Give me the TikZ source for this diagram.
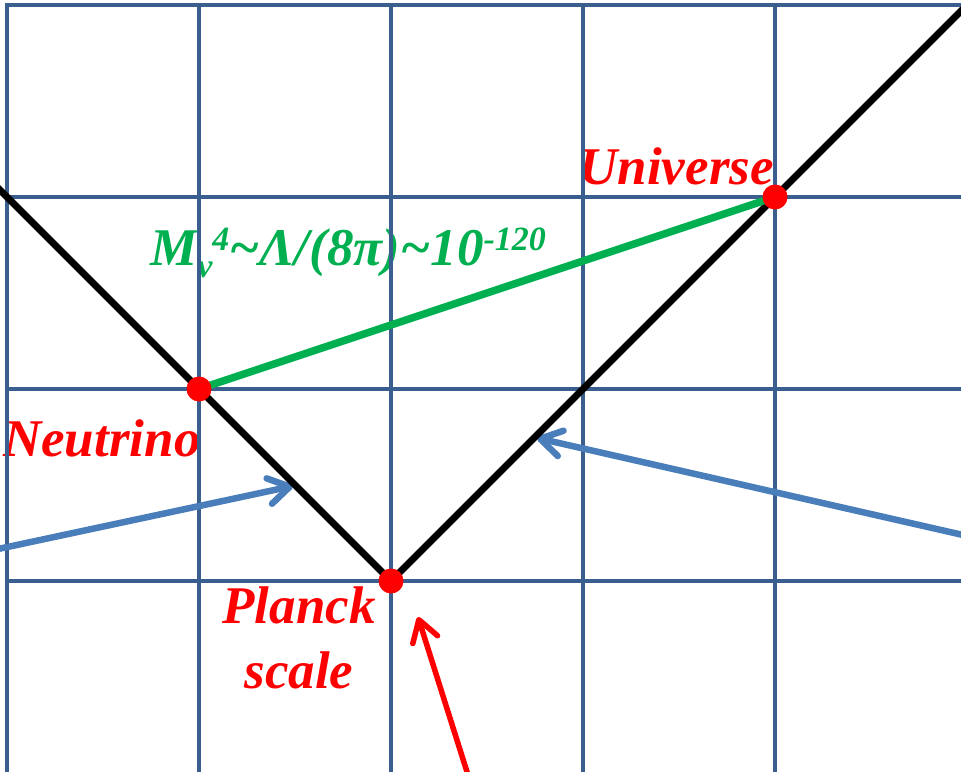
\documentclass[tikz,border=0pt]{standalone}
\usepackage{fontspec}
\setmainfont{Liberation Serif}
\usetikzlibrary{arrows.meta,positioning}
\definecolor{gridcol}{HTML}{3A5F8E}
\definecolor{arrowcol}{HTML}{4A7EBB}
\definecolor{scalecol}{HTML}{00B050}
\definecolor{markcol}{HTML}{FF0000}
\newcommand{\lowtxt}[1]{\raisebox{-0.24em}{\fontsize{34}{34}\selectfont #1}}
\newcommand{\uptxt}[1]{\raisebox{0.28em}{\fontsize{34}{34}\selectfont #1}}

\begin{document}
\begin{tikzpicture}[
  x=1pt, y=-1pt, line cap=round, line join=round,
  lbl/.style={font=\fontsize{53}{65}\selectfont\bfseries\itshape, inner sep=0pt},
  gridln/.style={gridcol, line width=4.5pt, line cap=rect},
  pt/.style={circle, fill=markcol, minimum size=25pt, inner sep=0pt},
  barb/.style={-{Straight Barb[round,length=21pt,width=26pt]}}]

\def\G{192}   % grid pitch

\useasboundingbox (0,0) rectangle (961,771);

% ================================================================ labels
\node[lbl, markcol, anchor=base east] (univLbl) at (774,184) {Universe};
\node[lbl, markcol, anchor=base west] (nuLbl) at (3,456) {Neutrino};
\node[lbl, markcol, anchor=base, align=center] (planckLbl) at (299,688) {Planck\\scale};
\node[lbl, scalecol, anchor=base west] (relLbl) at (150,265)
  {M\lowtxt{ν}\uptxt{4}\textasciitilde Λ/(8π)\textasciitilde 10\uptxt{-120}};

% ================================================================ grid
\foreach \i in {0,...,4} \draw[gridln] ({7+\i*\G},5) -- ({7+\i*\G},775);
\foreach \j in {0,...,3} \draw[gridln] (7,{5+\j*\G}) -- (965,{5+\j*\G});

% the three scales
\coordinate (nu) at (199,389);
\coordinate (planck) at (391,581);
\coordinate (univ) at (775,197);
\coordinate (lftEnd) at (-4,186);
\coordinate (rgtEnd) at (971,1);

% incoming arrows
\coordinate (inL) at (-2,549);
\coordinate (hitL) at (293,486);
\coordinate (inR) at (963,535);
\coordinate (hitR) at (537,438);
\coordinate (inB) at (468,775);
\coordinate (hitB) at (418,617);
\draw[barb, arrowcol, line width=6.5pt] (inL) -- (hitL);
\draw[barb, arrowcol, line width=6.5pt] (inR) -- (hitR);

% the V
\draw[black, line width=7pt, line cap=butt] (lftEnd) -- (planck) -- (rgtEnd);
\draw[scalecol, line width=7.5pt, line cap=butt] (nu) -- (univ);
\draw[barb, markcol, line width=5.5pt] (inB) -- (hitB);

\node[pt] (nuDot) at (nu) {};
\node[pt] (planckDot) at (planck) {};
\node[pt] (univDot) at (univ) {};

\end{tikzpicture}
\end{document}
